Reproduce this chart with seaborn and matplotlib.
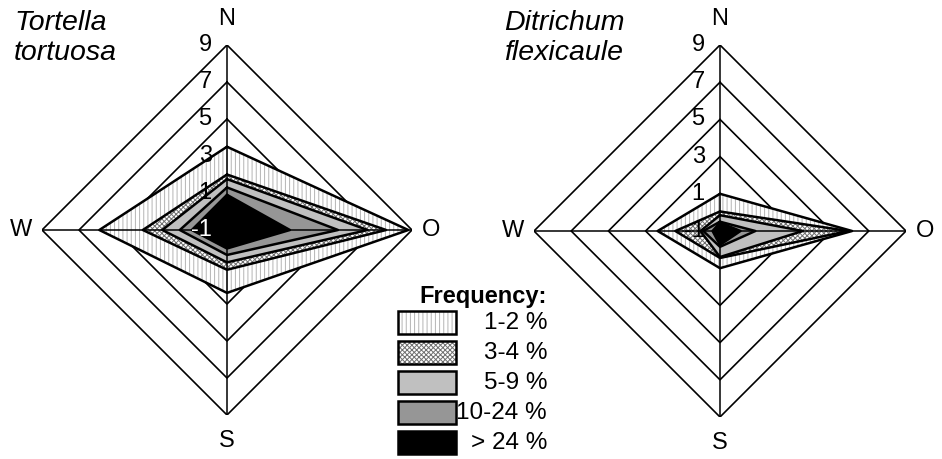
import numpy as np
import matplotlib
matplotlib.use("Agg")
import matplotlib.pyplot as plt
from matplotlib.patches import Rectangle
import seaborn as sns

# Direcciones y clases de frecuencia
directions = ["N", "O", "S", "W"]
classes = ["1-2 %", "3-4 %", "5-9 %", "10-24 %", "> 24 %"]
ring_ticks = [-1, 1, 3, 5, 7, 9]

# Valores (orden N, O, S, W)
tortella = [
    [3.5, 8.8, 2.4, 5.9],
    [2.0, 7.6, 1.15, 3.55],
    [1.75, 6.6, 0.75, 2.5],
    [1.3, 5.0, 0.35, 1.55],
    [0.9, 2.4, 0.0, 0.9],
]
ditrichum = [
    [1.0, 6.1, 1.0, 2.35],
    [0.05, 5.9, 0.45, 1.4],
    [-0.15, 3.45, 0.4, 0.05],
    [-0.5, 0.9, -0.15, -0.1],
    [-0.55, 0.1, -0.25, -0.6],
]
titles = ["Tortella\ntortuosa", "Ditrichum\nflexicaule"]

# estilos de relleno
face_colors = ["white", "white", "#c0c0c0", "#969696", "black"]
hatches = ["||||", "xxxxxxx", None, None, None]
hatch_colors = ["#b4b4b4", "#707070", None, None, None]

sns.set_theme(style="white")
plt.rcParams["font.family"] = ["Liberation Sans", "DejaVu Sans"]
plt.rcParams["text.color"] = "black"
plt.rcParams["hatch.linewidth"] = 0.7

W_PX, H_PX = 942, 459
fig = plt.figure(figsize=(W_PX / 100, H_PX / 100), dpi=100)

theta = {"N": 0.0, "O": np.pi / 2, "S": np.pi, "W": 3 * np.pi / 2}
th = [theta[d] for d in directions]
th_closed = th + th[:1]


def radar(center, radius, data, title, title_x, minus_color):
    cx, cy = center
    ax = fig.add_axes([(cx - radius) / W_PX, (H_PX - cy - radius) / H_PX,
                       2 * radius / W_PX, 2 * radius / H_PX], projection="polar")
    ax.set_theta_zero_location("N")
    ax.set_theta_direction(-1)
    ax.set_ylim(-1, 9)
    ax.grid(False)
    ax.set_xticks([])
    ax.set_yticks([])
    ax.spines["polar"].set_visible(False)
    ax.set_facecolor("none")

    # anillos en forma de rombo
    for v in ring_ticks[1:]:
        ax.plot(th_closed, [v] * 5, color="black", lw=1.2, zorder=1)

    # poligonos de frecuencia
    for i, vals in enumerate(data):
        r = list(vals) + [vals[0]]
        ax.fill(th_closed, r, facecolor=face_colors[i], edgecolor="none", zorder=2 + i)
        if hatches[i]:
            ax.fill(th_closed, r, facecolor="none", edgecolor=hatch_colors[i],
                    hatch=hatches[i], lw=0, zorder=2 + i)
        ax.plot(th_closed, r, color="black", lw=1.8, zorder=2 + i)

    # ejes
    for t in th:
        ax.plot([t, t], [-1, 9], color="black", lw=1.1, zorder=10)

    # etiquetas de escala
    for v in ring_ticks:
        col = minus_color if v == -1 else "black"
        ax.annotate(str(v), xy=(0, v), xytext=(-11, 0), textcoords="offset points",
                    ha="right", va="center", fontsize=17, color=col, zorder=11,
                    annotation_clip=False)

    # direcciones
    offsets = {"N": (0, 19), "O": (14, 0), "S": (0, -19), "W": (-15, 0)}
    for d in directions:
        ax.annotate(d, xy=(theta[d], 9), xytext=offsets[d], textcoords="offset points",
                    ha="center", va="center", fontsize=17, annotation_clip=False)

    fig.text(title_x / W_PX, 1 - 10 / H_PX, title, style="italic", fontsize=20.5,
             ha="left", va="top", linespacing=1.2)


radar((227, 230), 185, tortella, titles[0], 14, "white")
radar((720, 231), 186, ditrichum, titles[1], 504, "black")

# leyenda
lax = fig.add_axes([0, 0, 1, 1])
lax.set_xlim(0, W_PX)
lax.set_ylim(H_PX, 0)
lax.axis("off")
lax.set_zorder(-1)
lax.text(547, 297, "Frequency:", fontsize=17, fontweight="bold", ha="right", va="center")
for i, lab in enumerate(classes):
    y0 = 311 + 30 * i
    lax.add_patch(Rectangle((398, y0), 58, 23, facecolor=face_colors[i], edgecolor="none"))
    if hatches[i]:
        lax.add_patch(Rectangle((398, y0), 58, 23, facecolor="none",
                                edgecolor=hatch_colors[i], hatch=hatches[i], lw=0))
    lax.add_patch(Rectangle((398, y0), 58, 23, facecolor="none", edgecolor="black", lw=1.8))
    lax.text(547, y0 + 12, lab, fontsize=17.5, ha="right", va="center")

fig.savefig("out.png", dpi=100)
